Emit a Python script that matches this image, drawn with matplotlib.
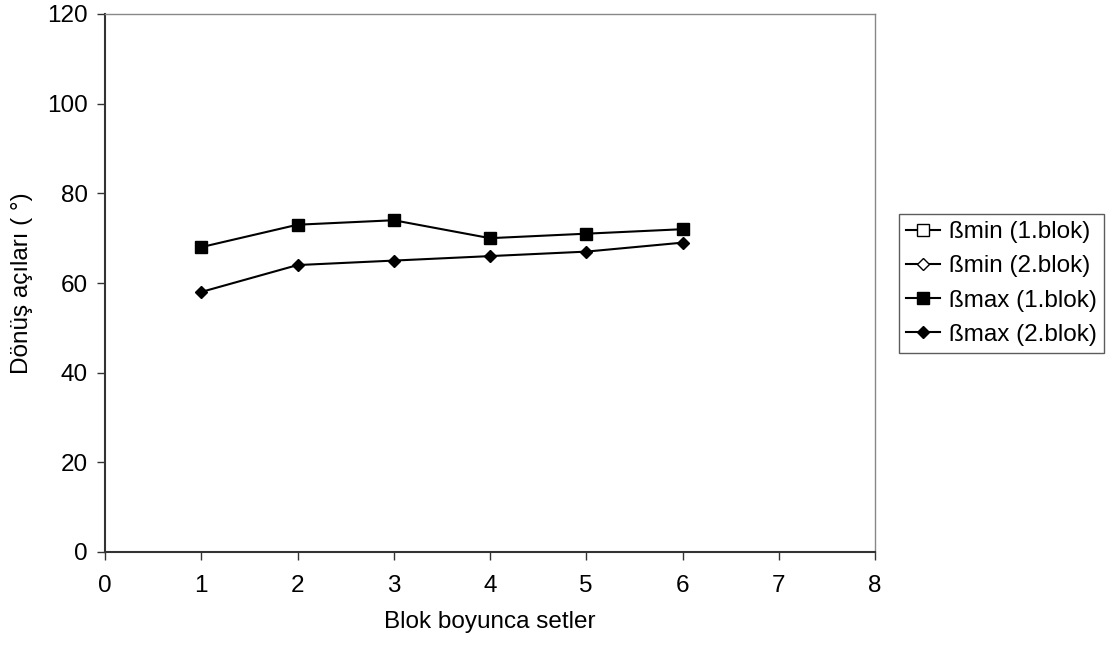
import numpy as np
import matplotlib
matplotlib.use("Agg")
import matplotlib.pyplot as plt

plt.rcParams['font.family'] = ['Liberation Sans', 'DejaVu Sans']

sets = [1, 2, 3, 4, 5, 6]
beta_min_1 = [np.nan] * 6
beta_min_2 = [np.nan] * 6
beta_max_1 = [68, 73, 74, 70, 71, 72]
beta_max_2 = [58, 64, 65, 66, 67, 69]
labels = ["ßmin (1.blok)", "ßmin (2.blok)", "ßmax (1.blok)", "ßmax (2.blok)"]
x_ticks = list(range(0, 9))
y_ticks = list(range(0, 121, 20))

FS = 17.5

fig = plt.figure(figsize=(11.12, 6.52), dpi=100)
ax = fig.add_axes([105 / 1112, 100 / 652, 770 / 1112, 538 / 652])

ax.plot(sets, beta_min_1, color='black', lw=1.5, marker='s', ms=8,
        mfc='white', mec='black', label=labels[0])
ax.plot(sets, beta_min_2, color='black', lw=1.5, marker='D', ms=6,
        mfc='white', mec='black', label=labels[1])
ax.plot(sets, beta_max_1, color='black', lw=1.5, marker='s', ms=8,
        mfc='black', mec='black', label=labels[2])
ax.plot(sets, beta_max_2, color='black', lw=1.5, marker='D', ms=6.5,
        mfc='black', mec='black', label=labels[3])

ax.set_xlim(0, 8)
ax.set_ylim(0, 120)
ax.set_xticks(x_ticks)
ax.set_yticks(y_ticks)
ax.tick_params(direction='out', length=5.5, width=1, labelsize=FS,
               color='#333333')
ax.tick_params(axis='x', pad=11)
ax.tick_params(axis='y', pad=7)
for side in ['left', 'bottom']:
    ax.spines[side].set_color('#333333')
    ax.spines[side].set_linewidth(1.5)
for side in ['top', 'right']:
    ax.spines[side].set_color('#888888')
    ax.spines[side].set_linewidth(1.0)

ax.set_xlabel("Blok boyunca setler", fontsize=FS, labelpad=10)
ax.set_ylabel("Dönüş açıları ( °)", fontsize=FS, labelpad=10)

leg = fig.legend(loc='upper left', bbox_to_anchor=(899 / 1112, 1 - 214 / 652),
                 frameon=True, fancybox=False, edgecolor='#333333',
                 fontsize=FS, handlelength=1.4, handletextpad=0.35,
                 borderpad=0.3, labelspacing=0.5, borderaxespad=0)
leg.get_frame().set_linewidth(1.0)

fig.savefig("out.png", dpi=100, facecolor='white')
